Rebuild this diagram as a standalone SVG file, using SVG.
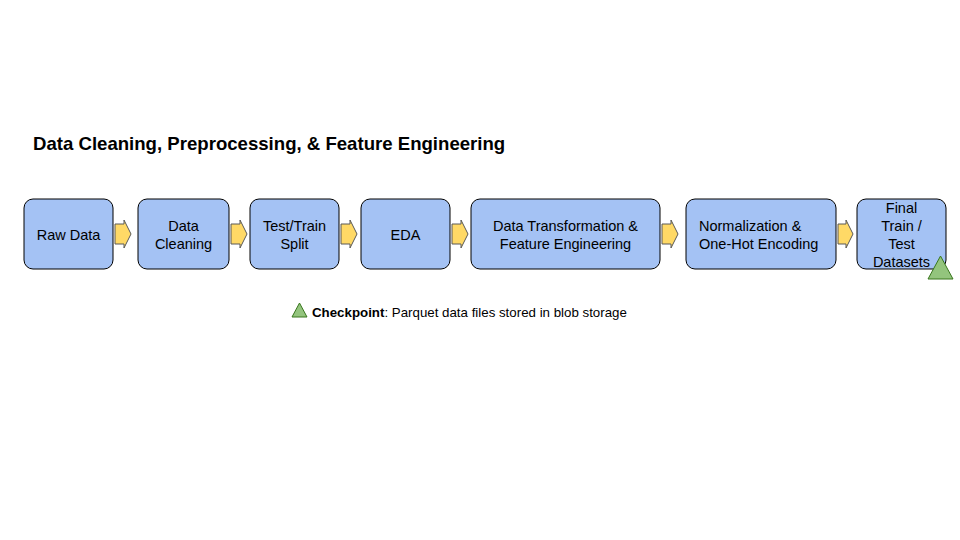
<svg xmlns="http://www.w3.org/2000/svg" width="960" height="540" viewBox="0 0 960 540">
<style>
.box{fill:#a4c2f4;stroke:#000;stroke-width:1}
.arr{fill:#ffd966;stroke:#595959;stroke-width:1}
.tri{fill:#93c47d;stroke:#38761d;stroke-width:1}
.t{font-family:"Liberation Sans",Arial,sans-serif;font-size:14.5px;fill:#000}
.c{text-anchor:middle}
</style>
<rect width="960" height="540" fill="#fff"/>
<text x="33" y="150" font-family="Liberation Sans,Arial,sans-serif" font-size="18.6" font-weight="bold">Data Cleaning, Preprocessing, &amp; Feature Engineering</text>
<g id="connectors">
<path class="arr" d="M115,224 H124 V220 L131,234 L124,248 V244 H115 Z"/>
<path class="arr" d="M231,224 H240 V220 L247,234 L240,248 V244 H231 Z"/>
<path class="arr" d="M341,224 H350 V220 L357,234 L350,248 V244 H341 Z"/>
<path class="arr" d="M452,224 H461 V220 L468,234 L461,248 V244 H452 Z"/>
<path class="arr" d="M662,224 H671 V220 L678,234 L671,248 V244 H662 Z"/>
<path class="arr" d="M838,224 H846 V220 L853,234 L846,248 V244 H838 Z"/>
</g>
<g id="raw-data"><rect class="box" x="24" y="199" width="89" height="70" rx="9"/><text class="t c" x="68.5" y="240">Raw Data</text></g>
<g id="data-cleaning"><rect class="box" x="138" y="199" width="91" height="70" rx="9"/><text class="t c" x="183.5" y="231">Data</text><text class="t c" x="183.5" y="249">Cleaning</text></g>
<g id="split"><rect class="box" x="250" y="199" width="89" height="70" rx="9"/><text class="t c" x="294.5" y="231">Test/Train</text><text class="t c" x="294.5" y="249">Split</text></g>
<g id="eda"><rect class="box" x="361" y="199" width="89" height="70" rx="9"/><text class="t c" x="405.5" y="240">EDA</text></g>
<g id="transform"><rect class="box" x="471" y="199" width="189" height="70" rx="9"/><text class="t c" x="565.5" y="231">Data Transformation &amp;</text><text class="t c" x="565.5" y="249">Feature Engineering</text></g>
<g id="normalization"><rect class="box" x="686" y="199" width="150" height="70" rx="9"/><text class="t" x="699" y="231">Normalization &amp;</text><text class="t" x="699" y="249">One-Hot Encoding</text></g>
<g id="final"><rect class="box" x="857" y="199" width="89" height="70" rx="9"/><text class="t c" x="901.5" y="213">Final</text><text class="t c" x="901.5" y="231">Train /</text><text class="t c" x="901.5" y="249">Test</text><text class="t c" x="901.5" y="267">Datasets</text><path class="tri" d="M928,279 L940.5,256 L953,279 Z"/></g>
<g id="legend"><path class="tri" d="M292,317 L299.5,303 L307,317 Z"/><text x="312" y="317" font-family="Liberation Sans,Arial,sans-serif" font-size="13.3"><tspan font-weight="bold">Checkpoint</tspan>: Parquet data files stored in blob storage</text></g>
</svg>
